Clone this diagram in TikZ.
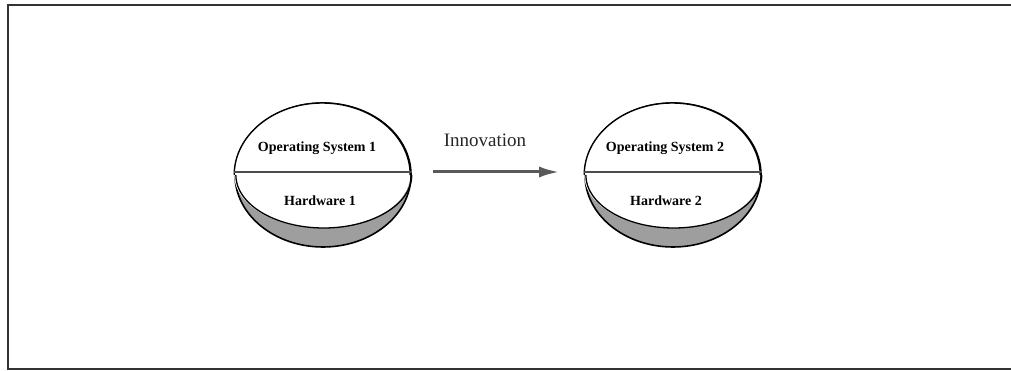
\documentclass[tikz,border=0pt]{standalone}
\usepackage{fontspec}
\setmainfont{Liberation Serif}
\usetikzlibrary{shapes.geometric,arrows.meta}
\begin{document}
\begin{tikzpicture}[x=1pt,y=1pt,
  disk/.style={ellipse, minimum width=176pt, minimum height=144pt, inner sep=0pt,
               fill=black!38, draw=black, line width=1.6pt},
  divider/.style={draw=black!70, line width=2pt},
  lbl/.style={font=\bfseries\fontsize{14}{16}\selectfont, inner sep=0pt},
  innov/.style={font=\fontsize{19}{21}\selectfont, text=black!85, inner sep=0pt},
  flow/.style={draw=black!65, line width=3pt, -{Latex[length=20pt,width=11pt]}},
  frame/.style={draw=black!80, line width=1.5pt}]
\useasboundingbox (0,0) rectangle (1011,371);
% frame (no right edge)
\draw[frame] (1011,366) -- (8,366) -- (8,2) -- (1011,2);
% disks
\foreach \n/\cx in {d1/323, d2/673}{
  \node[disk] (\n) at (\cx,196) {};
  \fill[white] (\n.west) arc[start angle=180, end angle=0, x radius=88, y radius=72]
     arc[start angle=0, end angle=-180, x radius=88, y radius=53] -- cycle;
  \draw[black, line width=1.4pt] (\n.west) arc[start angle=180, end angle=0, x radius=88, y radius=72];
  \draw[black, line width=1.3pt] (\n.east) arc[start angle=0, end angle=-180, x radius=88, y radius=53];
  \draw[divider] ([yshift=3pt]\n.west) -- ([yshift=3pt]\n.east);
}
\node[lbl] (os1) at (317,223) {Operating System 1};
\node[lbl] (hw1) at (320,170) {Hardware 1};
\node[lbl] (os2) at (665,223) {Operating System 2};
\node[lbl] (hw2) at (666,170) {Hardware 2};
% arrow
\draw[flow] ([xshift=21pt,yshift=3pt]d1.east) -- ([xshift=-25pt,yshift=3pt]d2.west);
\node[innov] (inn) at (485,231) {Innovation};
\end{tikzpicture}
\end{document}
